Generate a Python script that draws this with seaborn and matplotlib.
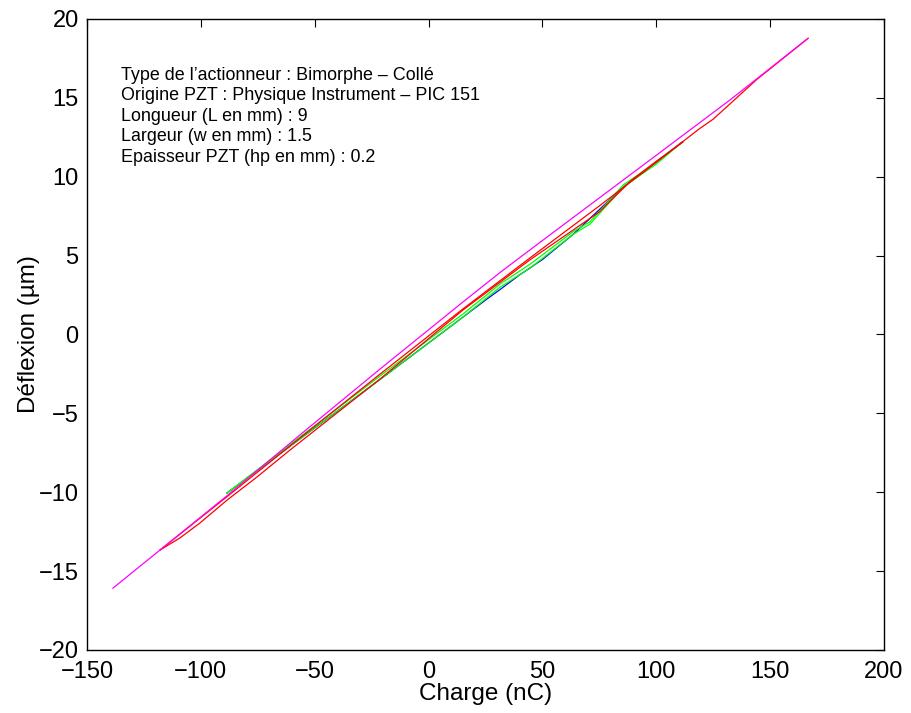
import matplotlib
matplotlib.use("Agg")
import matplotlib.pyplot as plt
import seaborn as sns
import pandas as pd

# ---- data ----
magenta_x = [-138.7, -117.9, -88.5, -56.5, -21.3, 15.1, 31.4, 44.5, 75.0, 100.0, 132.4, 166.7]
magenta_y = [-16.09, -13.66, -10.22, -6.37, -2.19, 2.06, 3.93, 5.36, 8.66, 11.36, 14.87, 18.78]

red_up_x = [-117.9, -88.5, -56.5, -21.3, 15.1, 44.5, 75.0, 100.0, 119.0, 125.0, 144.0, 166.7]
red_up_y = [-13.66, -10.28, -6.56, -2.51, 1.62, 4.85, 8.15, 10.92, 13.05, 13.65, 16.15, 18.78]

red_low_x = [-117.9, -109.2, -100.4, -88.5, -75.4, -60.9, -21.3, 15.1, 44.5, 75.0, 89.2, 100.0, 111.7]
red_low_y = [-13.66, -12.9, -11.95, -10.5, -9.04, -7.33, -2.82, 1.55, 4.73, 7.77, 9.79, 10.98, 12.2]

green_a_x = [-88.7, -75.0, -56.5, -21.3, 15.1, 31.4, 44.5, 63.5, 70.9, 85.5, 100.0, 111.6]
green_a_y = [-10.07, -8.55, -6.50, -2.63, 1.30, 3.20, 4.45, 6.52, 7.15, 9.48, 10.90, 12.22]
green_b_x = [-88.7, -75.0, -56.5, -21.3, 15.1, 31.4, 44.5, 63.5, 70.9, 85.5, 100.0, 111.6]
green_b_y = [-10.07, -8.60, -6.62, -2.85, 1.10, 3.00, 4.20, 6.35, 7.00, 9.35, 10.80, 12.22]

blue_x = [-88.7, -56.5, -21.3, 15.1, 25.0, 31.4, 40.0, 50.0, 63.5, 85.5, 111.6]
blue_y = [-10.07, -6.62, -2.85, 1.10, 2.18, 2.85, 3.78, 4.75, 6.35, 9.35, 12.22]

x_ticks = [-150, -100, -50, 0, 50, 100, 150, 200]
y_ticks = [-20, -15, -10, -5, 0, 5, 10, 15, 20]

info_lines = [
    "Type de l\u2019actionneur : Bimorphe \u2013 Coll\u00e9",
    "Origine PZT : Physique Instrument \u2013 PIC 151",
    "Longueur (L en mm) : 9",
    "Largeur (w en mm) : 1.5",
    "Epaisseur PZT (hp en mm) : 0.2",
]

# ---- style ----
sns.set_style("white")
plt.rcParams["font.family"] = ["Liberation Sans", "DejaVu Sans"]
plt.rcParams["axes.unicode_minus"] = True
plt.rcParams["text.color"] = "black"
plt.rcParams["axes.labelcolor"] = "black"
plt.rcParams["xtick.color"] = "black"
plt.rcParams["ytick.color"] = "black"

fig = plt.figure(figsize=(9.11, 7.13), dpi=100)
ax = fig.add_axes([0.0955, 0.0884, 0.8749, 0.8850])

lw = 0.9
series = [
    (blue_x, blue_y, (0, 0, 1)),
    (green_b_x, green_b_y, (0, 1, 0)),
    (green_a_x, green_a_y, (0, 1, 0)),
    (red_low_x, red_low_y, (1, 0, 0)),
    (red_up_x, red_up_y, (1, 0, 0)),
    (magenta_x, magenta_y, (1, 0, 1)),
]
for xs, ys, col in series:
    df = pd.DataFrame({"x": xs, "y": ys})
    sns.lineplot(data=df, x="x", y="y", sort=False, estimator=None,
                 color=col, linewidth=lw, ax=ax)

ax.set_xlim(-150, 200)
ax.set_ylim(-20, 20)
ax.set_xticks(x_ticks)
ax.set_yticks(y_ticks)
ax.tick_params(direction="in", length=6, width=0.8, top=True, right=True,
               labelsize=17, colors="black")
ax.tick_params(axis="x", pad=8)
ax.tick_params(axis="y", pad=6)
for s in ax.spines.values():
    s.set_visible(True)
    s.set_color("black")
    s.set_linewidth(1.0)

ax.set_xlabel("Charge (nC)", fontsize=17.5, labelpad=0, color="black")
ax.set_ylabel("D\u00e9flexion (\u00b5m)", fontsize=17.5, labelpad=-1, color="black")

ys_text = [0.9033, 0.8708, 0.8384, 0.8059, 0.7734]
for line, yy in zip(info_lines, ys_text):
    ax.text(0.0427, yy, line, transform=ax.transAxes, fontsize=12.9,
            va="baseline", ha="left", color="black")

fig.savefig("out.png", dpi=100)
